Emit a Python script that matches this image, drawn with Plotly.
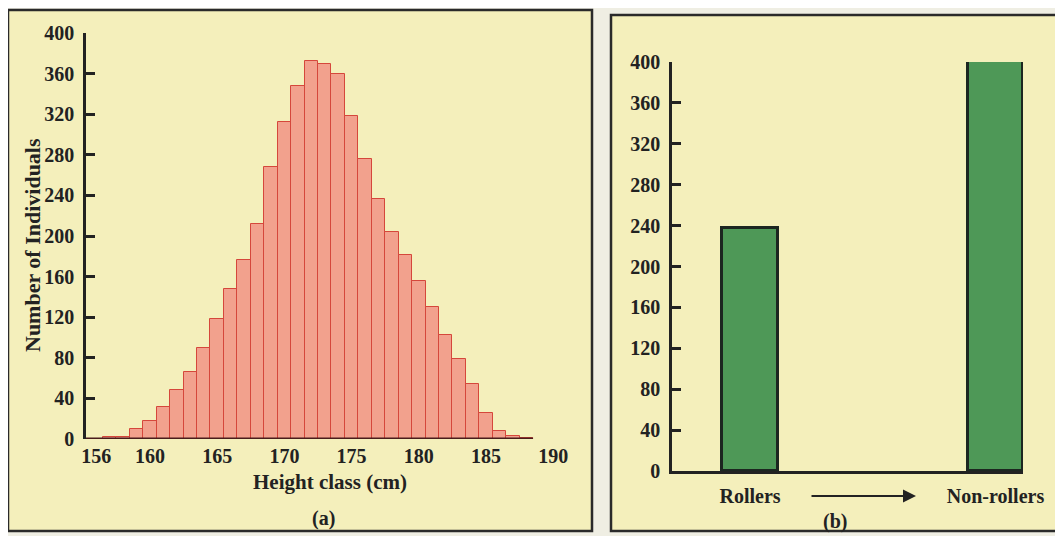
import plotly.graph_objects as go

W, H = 1063, 536
OFF = 8  # page body margin: the figure is drawn 8px in from the window corner

# (a) height distribution in 1 cm classes
height_class = list(range(157, 189))
n_individuals = [2, 2, 10, 18, 32, 48, 66, 90, 118, 148,
                 176, 212, 268, 312, 348, 372, 369, 360, 318, 276,
                 236, 204, 181, 156, 130, 102, 79, 54, 26, 8,
                 3, 1]
height_ticks = [156, 160, 165, 170, 175, 180, 185, 190]

# (b) rollers vs non-rollers
roll_groups = ["Rollers", "Non-rollers"]
roll_counts = [238, 402]

count_ticks = list(range(0, 401, 40))


def px(x):
    return (x - OFF) / W


def py(y):
    return 1 - (y - OFF) / H


INK = "#222222"
FONT = "Liberation Serif"
tick_font = dict(family=FONT, size=20, color=INK, weight="bold")

fig = go.Figure()

fig.add_trace(go.Bar(
    x=height_class,
    y=n_individuals,
    width=1,
    marker=dict(color="#f2a18d", line=dict(color="#d5473b", width=1)),
    xaxis="x", yaxis="y",
    hovertemplate="%{x} cm: %{y}<extra></extra>",
))

fig.add_trace(go.Bar(
    x=roll_groups,
    y=roll_counts,
    width=0.228,
    marker=dict(color="#4e9857", line=dict(color="#1c2620", width=3)),
    cliponaxis=False,
    xaxis="x2", yaxis="y2",
    hovertemplate="%{x}: %{y}<extra></extra>",
))

y_common = dict(
    range=[0, 400],
    tickvals=count_ticks,
    ticks="inside",
    ticklen=9,
    tickwidth=2.5,
    tickcolor=INK,
    showline=True,
    linewidth=2.5,
    linecolor=INK,
    showgrid=False,
    zeroline=False,
    tickfont=tick_font,
    ticklabelstandoff=5,
    automargin=False,
)

fig.update_layout(
    width=W, height=H,
    margin=dict(l=0, r=0, t=0, b=0, pad=0),
    showlegend=False,
    paper_bgcolor="#efeee3",
    plot_bgcolor="rgba(0,0,0,0)",
    bargap=0,
    xaxis=dict(
        domain=[px(86), px(561.3)],
        range=[155.24, 190.6],
        tickvals=height_ticks,
        showline=False, showgrid=False, zeroline=False,
        ticks="",
        tickfont=tick_font,
        ticklabelstandoff=3,
        automargin=False,
        anchor="y",
    ),
    yaxis=dict(domain=[py(439), py(33)], anchor="x", **y_common),
    xaxis2=dict(
        domain=[px(672), px(1023)],
        type="category",
        range=[-0.318, 1.112],
        showline=True, linewidth=2.5, linecolor=INK,
        showgrid=False, zeroline=False,
        ticks="",
        tickfont=tick_font,
        ticklabelstandoff=5,
        automargin=False,
        anchor="y2",
    ),
    yaxis2=dict(domain=[py(471), py(62)], anchor="x2", **y_common),
)

# panel backgrounds and frames
for x0, y0, x1, y1 in [(8, 10, 592, 531), (611, 15, 1061, 531)]:
    fig.add_shape(
        type="rect", xref="paper", yref="paper",
        x0=px(x0), x1=px(x1), y0=py(y1), y1=py(y0),
        fillcolor="#f4efbb",
        line=dict(color="#2a2a2a", width=2.5),
        layer="below",
    )

# dark baseline under the histogram
fig.add_shape(
    type="line", xref="x", yref="y",
    x0=155.24, x1=height_class[-1] + 0.5, y0=0, y1=0,
    line=dict(color="#4a1c1c", width=3),
)

for text, x, y, angle, size in [
    ("Number of Individuals", 32, 245, -90, 22),
    ("Height class (cm)", 330, 482, 0, 21),
    ("(a)", 323, 518, 0, 20),
    ("(b)", 835, 521, 0, 20),
]:
    fig.add_annotation(
        text=text, textangle=angle,
        xref="paper", yref="paper", x=px(x), y=py(y),
        xanchor="center", yanchor="middle",
        showarrow=False,
        font=dict(family=FONT, size=size, color=INK, weight="bold"),
    )

# arrow between Rollers and Non-rollers
fig.add_annotation(
    text="",
    xref="paper", yref="paper", x=px(916), y=py(496),
    ax=-106, ay=0,
    showarrow=True, arrowhead=2, arrowsize=1.3, arrowwidth=2, arrowcolor=INK,
)

fig.write_html("out.html")
